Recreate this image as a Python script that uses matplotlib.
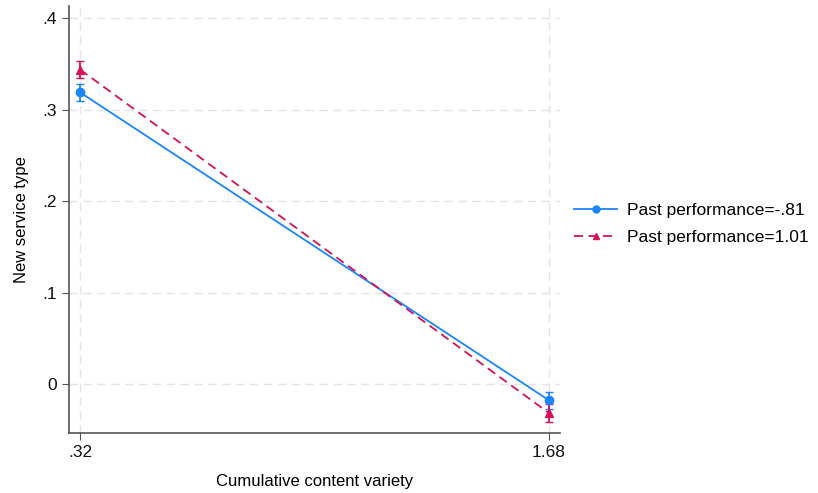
import matplotlib
matplotlib.use("Agg")
from matplotlib import pyplot as plt
from matplotlib.lines import Line2D

# margins at the two variety levels
variety = [0.32, 1.68]
low_perf = [0.319, -0.0175]
low_err = [0.0090, 0.0090]
high_perf = [0.344, -0.0315]
high_err = [0.0095, 0.0100]

labels = ["Past performance=-.81", "Past performance=1.01"]
x_ticks = [0.32, 1.68]
x_ticklabels = [".32", "1.68"]
y_ticks = [0, 0.1, 0.2, 0.3, 0.4]
y_ticklabels = ["0", ".1", ".2", ".3", ".4"]

blue = "#1a85ff"
red = "#d41159"
dash = (0, (5, 3))

plt.rcParams["font.family"] = ["Liberation Sans", "DejaVu Sans"]

fig = plt.figure(figsize=(8.18, 4.93), dpi=100)
ax = fig.add_axes([0.0844, 0.1207, 0.6002, 0.8673])

ax.errorbar(variety, low_perf, yerr=low_err, color=blue, marker="o",
            markersize=6, linewidth=1.3, capsize=3, elinewidth=1.3, zorder=3)
ax.errorbar(variety, high_perf, yerr=high_err, color=red, marker="^",
            markersize=6, linewidth=1.3, linestyle=dash, capsize=3,
            elinewidth=1.3, zorder=3)

ax.set_xlim(0.288, 1.712)
ax.set_ylim(-0.0538, 0.4135)
ax.set_xticks(x_ticks)
ax.set_xticklabels(x_ticklabels)
ax.set_yticks(y_ticks)
ax.set_yticklabels(y_ticklabels)
ax.grid(True, color="#e4e4e4", linestyle=(0, (6, 4)), linewidth=1)
ax.set_axisbelow(True)

for side in ["top", "right"]:
    ax.spines[side].set_visible(False)
for side in ["left", "bottom"]:
    ax.spines[side].set_color("#555555")
    ax.spines[side].set_linewidth(1.2)
ax.tick_params(colors="#555555", labelcolor="#111111", labelsize=12.5, length=5)

ax.set_xlabel("Cumulative content variety", fontsize=12, labelpad=10)
ax.set_ylabel("New service type", fontsize=12, labelpad=10)

handles = [
    Line2D([], [], color=blue, marker="o", markersize=5, linewidth=1.3),
    Line2D([], [], color=red, marker="^", markersize=5, linewidth=1.3,
           linestyle=dash),
]
ax.legend(handles, labels, loc="center left", bbox_to_anchor=(1.0, 0.49),
          frameon=False, fontsize=12.5, handlelength=2.5, handletextpad=0.55,
          labelspacing=0.7, borderaxespad=0.4)

fig.savefig("out.png")
